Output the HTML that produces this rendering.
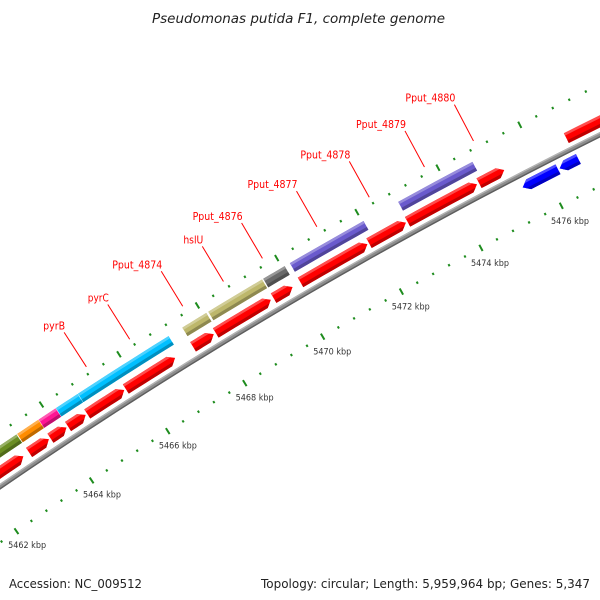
<!DOCTYPE html>
<html><head><meta charset="utf-8"><title>Pseudomonas putida F1 genome map</title>
<style>html,body{margin:0;padding:0;background:#fff}svg{display:block}</style></head>
<body>
<svg id="map" width="600" height="600" viewBox="0 0 600 600" xmlns="http://www.w3.org/2000/svg">
<rect width="600" height="600" fill="#fff"/>
<text x="152" y="23" font-family="DejaVu Sans, Liberation Sans, sans-serif" font-style="italic" font-size="13" fill="#222" textLength="293" lengthAdjust="spacingAndGlyphs">Pseudomonas putida F1, complete genome</text>
<g id="ticks"></g>
<g id="backbone"></g>
<g id="features"></g>
<g id="labels"></g>
<text x="9" y="588" font-family="DejaVu Sans, Liberation Sans, sans-serif" font-size="12.5" fill="#222" textLength="133" lengthAdjust="spacingAndGlyphs">Accession: NC_009512</text>
<text x="261" y="588" font-family="DejaVu Sans, Liberation Sans, sans-serif" font-size="12.5" fill="#222" textLength="329" lengthAdjust="spacingAndGlyphs">Topology: circular; Length: 5,959,964 bp; Genes: 5,347</text>
</svg>
<script>
// ---- data (kbp) ----
const fwdStarts = [5460.5, 5463.2, 5463.76, 5464.22, 5464.72, 5465.72, 5467.45, 5468.03, 5469.5, 5470.18, 5471.9, 5472.86, 5474.63, 5476.77];
const fwdEnds   = [5463.05, 5463.72, 5464.18, 5464.68, 5465.68, 5466.99, 5467.98, 5469.43, 5469.98, 5471.86, 5472.82, 5474.58, 5475.25, 5479.5];
const revStarts = [5475.43, 5476.34];
const revEnds   = [5476.3, 5476.8];
const cogStarts = [5460.5, 5463.21, 5463.77, 5464.22, 5464.79, 5467.47, 5468.13, 5469.52, 5470.19, 5472.89];
const cogEnds   = [5463.19, 5463.76, 5464.21, 5464.78, 5467.12, 5468.08, 5469.49, 5470.06, 5472.03, 5474.72];
const cogColors = ["#6b8e23", "#ff8c00", "#ff1493", "#00bfff", "#00bfff", "#bdb76b", "#bdb76b", "#696969", "#6a5acd", "#6a5acd"];
const labelNames = ["pyrB", "pyrC", "Pput_4874", "hslU", "Pput_4876", "Pput_4877", "Pput_4878", "Pput_4879", "Pput_4880"];
const labelKbp   = [5465.26, 5466.37, 5467.72, 5468.75, 5469.73, 5471.09, 5472.39, 5473.75, 5474.95];
const tickLabelKbp = [5462, 5464, 5466, 5468, 5470, 5472, 5474, 5476];
const tickLabelText = ["5462 kbp", "5464 kbp", "5466 kbp", "5468 kbp", "5470 kbp", "5472 kbp", "5474 kbp", "5476 kbp"];

// ---- geometry ----
const NS = "http://www.w3.org/2000/svg";
const CX = 2805, CY = 4581;
const A0 = -124.55, DEG_PER_KBP = 0.5286;
const R_BACK = 4963, R_FWD = 4975, R_REV = 4951, R_COG = 4992, R_TICK_UP = 5008, R_TICK_LO = 4917;
function ang(s){ return (A0 + (s - 5462) * DEG_PER_KBP) * Math.PI / 180; }
function pt(s, r){ const a = ang(s); return [CX + r * Math.cos(a), CY + r * Math.sin(a)]; }
function arcPts(s1, s2, r, n){ const p = []; for (let i = 0; i <= n; i++){ p.push(pt(s1 + (s2 - s1) * i / n, r)); } return p; }
function ptsStr(p){ return p.map(q => q[0].toFixed(2) + "," + q[1].toFixed(2)).join(" "); }
function mk(tag, attrs, parent){ const e = document.createElementNS(NS, tag); for (const k in attrs) e.setAttribute(k, attrs[k]); parent.appendChild(e); return e; }

const ticksG = document.getElementById("ticks");
const backG = document.getElementById("backbone");
const featG = document.getElementById("features");
const labG = document.getElementById("labels");
let clipId = 0;

// ticks
for (let i = 0; i <= 55; i++){
  const s = 5459.2 + i * 0.4;
  const major = Math.abs(s / 2 - Math.round(s / 2)) < 0.01;
  const rings = [[R_TICK_UP, "upper"], [R_TICK_LO, "lower"]];
  for (const [r, nm] of rings){
    const a = major ? pt(s, r - 3.5) : pt(s, r - 1.2);
    const b = major ? pt(s, r + 3.5) : pt(s, r + 1.2);
    const t = mk("line", {x1: a[0], y1: a[1], x2: b[0], y2: b[1], stroke: "#1e8c1e", "stroke-width": 2}, ticksG);
    
    
  }
}
for (let i = 0; i < tickLabelKbp.length; i++){
  const p = pt(tickLabelKbp[i], 4900);
  const t = mk("text", {x: p[0] + 1, y: p[1] + 3, "text-anchor": "middle", "font-family": "DejaVu Sans, Liberation Sans, sans-serif", "font-size": "9", fill: "#333", textLength: "38", lengthAdjust: "spacingAndGlyphs"}, ticksG);
  t.textContent = tickLabelText[i];
  
  
}

// backbone
(function(){
  const outer = arcPts(5458, 5481, R_BACK + 2.5, 60);
  const inner = arcPts(5458, 5481, R_BACK - 2.5, 60).reverse();
  const b = mk("polygon", {points: ptsStr(outer.concat(inner)), fill: "#8c8c8c"}, backG);
  
  
  const hl = mk("polyline", {points: ptsStr(arcPts(5458, 5481, R_BACK + 1.8, 60)), fill: "none", stroke: "#b4b4b4", "stroke-width": 1.4}, backG);
  
  
  const sh = mk("polyline", {points: ptsStr(arcPts(5458, 5481, R_BACK - 1.8, 60)), fill: "none", stroke: "#5e5e5e", "stroke-width": 1.4}, backG);
  
  
})();

function shade(hex, f){
  const n = parseInt(hex.slice(1), 16); let r = n >> 16, g = (n >> 8) & 255, b = n & 255;
  if (f < 0){ r = r * (1 + f); g = g * (1 + f); b = b * (1 + f); }
  else { r = r + (255 - r) * f; g = g + (255 - g) * f; b = b + (255 - b) * f; }
  return "rgb(" + Math.round(r) + "," + Math.round(g) + "," + Math.round(b) + ")";
}

// feature drawing: dir 1 = forward arrow, -1 = reverse arrow, 0 = plain block
function feature(s1, s2, rc, h, color, dir, name){
  const ah = 0.15, rO = rc + h / 2, rI = rc - h / 2;
  let poly;
  if (dir === 1){
    const b2 = Math.max(s1, s2 - ah);
    poly = arcPts(s1, b2, rO, 6).concat([pt(s2, rc)]).concat(arcPts(s1, b2, rI, 6).reverse());
  } else if (dir === -1){
    const b1 = Math.min(s2, s1 + ah);
    poly = [pt(s1, rc)].concat(arcPts(b1, s2, rO, 6)).concat(arcPts(b1, s2, rI, 6).reverse());
  } else {
    poly = arcPts(s1, s2, rO, 6).concat(arcPts(s1, s2, rI, 6).reverse());
  }
  const g = mk("g", {}, featG);
  
  
  const id = "fc" + (clipId++);
  const cp = mk("clipPath", {id: id}, g);
  mk("polygon", {points: ptsStr(poly)}, cp);
  const base = mk("polygon", {points: ptsStr(poly), fill: color}, g);
  
  
  const lo = s1 - 0.3, hi = s2 + 0.3;
  const light = arcPts(lo, hi, rO + 1, 6).concat(arcPts(lo, hi, rO - 2.6, 6).reverse());
  const lt = mk("polygon", {points: ptsStr(light), fill: shade(color, 0.3), "clip-path": "url(#" + id + ")"}, g);
  
  
  const dark = arcPts(lo, hi, rI + 3.2, 6).concat(arcPts(lo, hi, rI - 1, 6).reverse());
  const dk = mk("polygon", {points: ptsStr(dark), fill: shade(color, -0.25), "clip-path": "url(#" + id + ")"}, g);
  
  
}

for (let i = 0; i < fwdStarts.length; i++) feature(fwdStarts[i], fwdEnds[i], R_FWD, 11, "#ff0000", 1, "forward-gene");
for (let i = 0; i < revStarts.length; i++) feature(revStarts[i], revEnds[i], R_REV, 11, "#0000ff", -1, "reverse-gene");
for (let i = 0; i < cogStarts.length; i++) feature(cogStarts[i], cogEnds[i], R_COG, 10, cogColors[i], 0, "cog-feature");

// labels
const labelWidths = {"pyrB": 22, "pyrC": 21, "hslU": 20};
for (let i = 0; i < labelNames.length; i++){
  const a = pt(labelKbp[i], 5015), b = pt(labelKbp[i], 5056);
  const ln = mk("line", {x1: a[0], y1: a[1], x2: b[0], y2: b[1], stroke: "#ff0000", "stroke-width": 1}, labG);
  
  
  const w = labelWidths[labelNames[i]] || 50;
  const t = mk("text", {x: b[0] + 1, y: b[1] - 3, "text-anchor": "end", "font-family": "DejaVu Sans, Liberation Sans, sans-serif", "font-size": "10.5", fill: "#ff0000", textLength: w, lengthAdjust: "spacingAndGlyphs"}, labG);
  t.textContent = labelNames[i];
  
  
}
</script>
</body></html>
